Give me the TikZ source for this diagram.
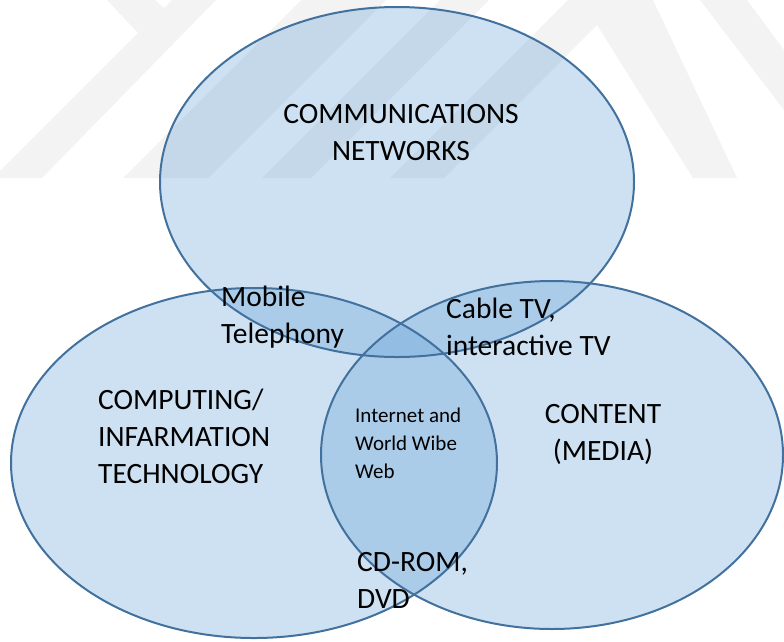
\documentclass[tikz,border=0pt]{standalone}
\usepackage{fontspec}
\setmainfont{Carlito}

\definecolor{setfill}{HTML}{5B9BD5}
\definecolor{setline}{HTML}{41719C}
\definecolor{markgray}{gray}{0.952}

\tikzset{
    setarea/.style={fill=setfill, fill opacity=0.3},
    setedge/.style={draw=setline, line width=2pt},
    biglabel/.style={inner sep=0pt, font=\fontsize{29.5}{37}\selectfont},
    smalllabel/.style={inner sep=0pt, font=\fontsize{21}{28}\selectfont},
}

\begin{document}
\begin{tikzpicture}[x=1pt,y=-1pt]
    \useasboundingbox (0,0) rectangle (784,641);
    % Faint stripes behind the sets
    \fill[markgray] (107,0) -- (155,0) -- (164,8) -- (172,0) -- (216,0) -- (42,178) -- (0,178) -- (0,171) -- (138,33) -- cycle;
    \fill[markgray] (123,178) -- (208,178) -- (386,0) -- (301,0) -- cycle;
    \fill[markgray] (262,178) -- (311,178) -- (489,0) -- (440,0) -- cycle;
    \fill[markgray] (390,178) -- (568,0) -- (653,0) -- (737,178) -- (693,178) -- (597,25) -- (444,178) -- cycle;
    \fill[markgray] (700,0) -- (747,0) -- (784,50) -- (784,110) -- cycle;

    % The three sets
    \coordinate (C1) at (397,182);
    \coordinate (C2) at (254,463);
    \coordinate (C3) at (552,455);
    \fill[setarea] (C1) ellipse [x radius=237, y radius=175];
    \fill[setarea] (C2) ellipse [x radius=243, y radius=175];
    \fill[setarea] (C3) ellipse [x radius=231, y radius=174];
    \draw[setedge] (C1) ellipse [x radius=237, y radius=175];
    \draw[setedge] (C2) ellipse [x radius=243, y radius=175];
    \draw[setedge] (C3) ellipse [x radius=231, y radius=174];

    % Labels (base = last line)
    \node[biglabel, align=center, anchor=base] (comm) at (401,160) {COMMUNICATIONS\\NETWORKS};
    \node[biglabel, align=left, anchor=base west] (mobile) at (221,343) {Mobile\\Telephony};
    \node[biglabel, align=left, anchor=base west] (cable) at (446,355) {Cable TV,\\interactive TV};
    \node[biglabel, align=left, anchor=base west] (comp) at (98,483) {COMPUTING/\\INFARMATION\\TECHNOLOGY};
    \node[smalllabel, align=left, anchor=base west] (web) at (355,478) {Internet and\\World Wibe\\Web};
    \node[biglabel, align=center, anchor=base] (content) at (603,460) {CONTENT\\(MEDIA)};
    \node[biglabel, align=left, anchor=base west] (cdrom) at (357,608) {CD-ROM,\\DVD};
\end{tikzpicture}
\end{document}
